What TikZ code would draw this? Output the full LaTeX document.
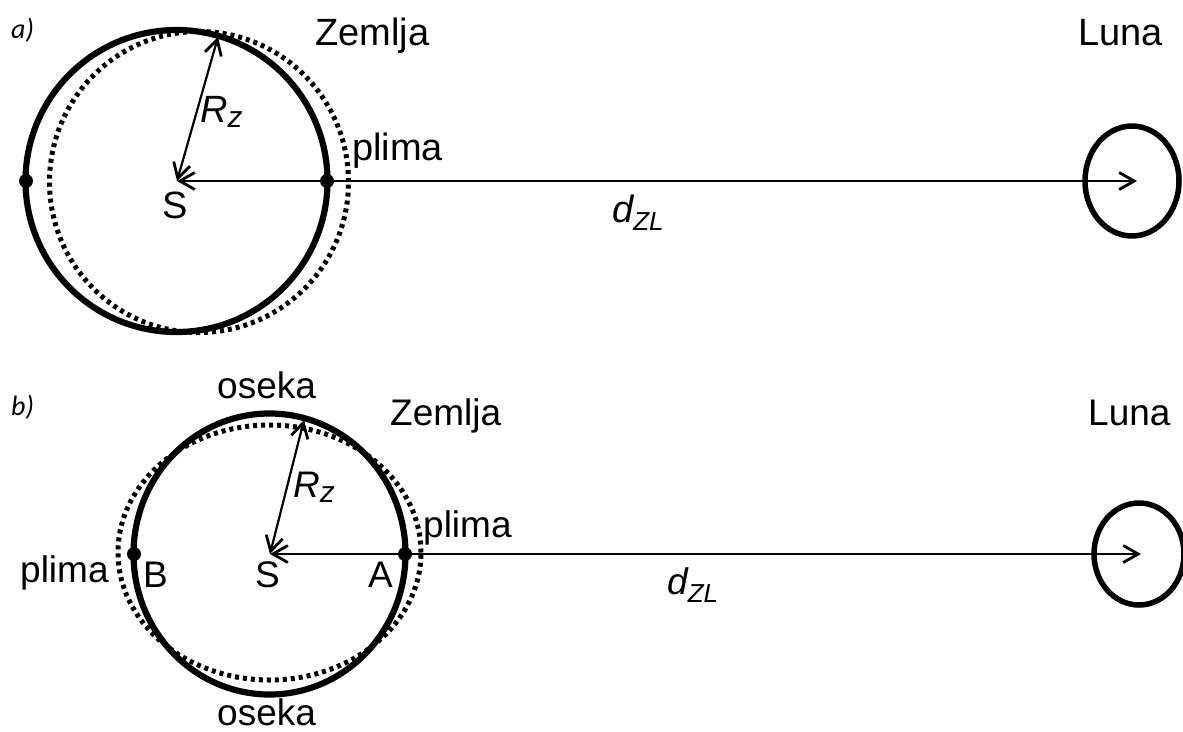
\documentclass[tikz,border=0pt]{standalone}
\usepackage{fontspec}
\setmainfont{Liberation Sans}
\newfontfamily\labfont{Carlito}
\usetikzlibrary{arrows.meta}
\tikzset{
  txt/.style={inner sep=0pt, anchor=base west, font=\fontsize{38}{38}\selectfont},
  txtb/.style={inner sep=0pt, anchor=base west, font=\fontsize{37}{37}\selectfont},
  panel/.style={inner sep=0pt, anchor=base west, font=\labfont\itshape\fontsize{28}{28}\selectfont},
  earth/.style={line width=6.2pt},
  tide/.style={line width=5pt, dash pattern=on 4pt off 4pt},
  moon/.style={line width=5.5pt},
  dim/.style={line width=2.2pt, {Straight Barb[length=15pt,width=17pt,line width=2.8pt]}-{Straight Barb[length=15pt,width=17pt,line width=2.8pt]}},
  pt/.style={fill=black, circle, inner sep=0pt, minimum size=14pt}
}
\newcommand{\Rz}{{\itshape R\raisebox{-5pt}{\fontsize{30}{30}\selectfont z}}}
\newcommand{\dZL}{{\itshape d\raisebox{-8pt}{\fontsize{26}{26}\selectfont ZL}}}
\begin{document}
\begin{tikzpicture}[x=1pt,y=-1pt]
\useasboundingbox (0,0) rectangle (1183,731);
\clip (0,0) rectangle (1183,731);
% ---------- panel a ----------
\coordinate (Sa) at (177,181);
\coordinate (Ta) at (218,37);
\coordinate (La) at (1137,181);
\draw[tide] (199,182) ellipse [x radius=149.5pt, y radius=150.5pt];
\draw[earth] (176.5,181) ellipse [x radius=151pt, y radius=151pt];
\draw[moon] (1132,181) ellipse [x radius=47pt, y radius=55pt];
\node[pt] (Pa1) at (26,181) {};
\node[pt] (Pa2) at (327,181) {};
\draw[dim] (Sa) -- (Ta);
\draw[dim] (Sa) -- (La);
\node[panel] (lbla) at (11,38) {a)};
\node[txt] (Za) at (315,45) {Zemlja};
\node[txt] (Lua) at (1078,45) {Luna};
\node[txt] (pla) at (352,160) {plima};
\node[txt] (Rza) at (200,122) {\Rz};
\node[txt] (Sta) at (162,218) {S};
\node[txt] (dza) at (612,222) {\dZL};
% ---------- panel b ----------
\coordinate (Sb) at (270,554);
\coordinate (Tb) at (304,420);
\coordinate (Lb) at (1141,554);
\draw[tide] (269.5,552.5) ellipse [x radius=151.5pt, y radius=127.5pt];
\draw[earth] (269.5,554) ellipse [x radius=136pt, y radius=140.5pt];
\draw[moon] (1139,554) ellipse [x radius=45pt, y radius=51pt];
\node[pt] (Pb1) at (134,554) {};
\node[pt] (Pb2) at (405,554) {};
\draw[dim] (Sb) -- (Tb);
\draw[dim] (Sb) -- (Lb);
\node[panel] (lblb) at (11,415) {b)};
\node[txtb] (osa) at (217,398) {oseka};
\node[txtb] (Zb) at (390,425) {Zemlja};
\node[txtb] (Lub) at (1088,425) {Luna};
\node[txtb] (Rzb) at (293,497) {\Rz};
\node[txtb] (plb1) at (423,537) {plima};
\node[txtb] (plb2) at (20,582) {plima};
\node[txtb] (Bb) at (143,587) {B};
\node[txtb] (Stb) at (255,587) {S};
\node[txtb] (Ab) at (368,587) {A};
\node[txtb] (dzb) at (667,594) {\dZL};
\node[txtb] (osb) at (217,725) {oseka};
\end{tikzpicture}
\end{document}
